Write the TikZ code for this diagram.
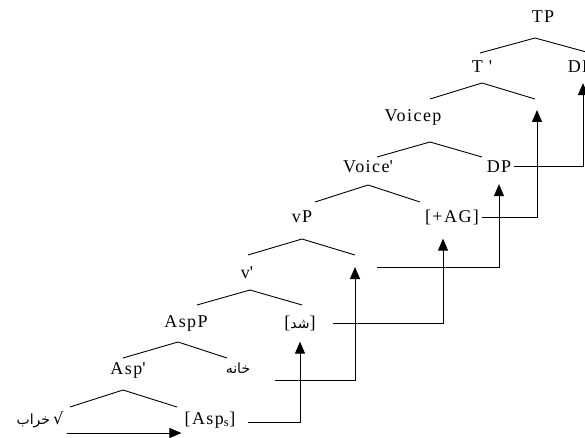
\documentclass[tikz,border=0pt]{standalone}
\usepackage{fontspec}
\setmainfont{Liberation Serif}[LetterSpace=8]
\newfontfamily\arabicfont[Script=Arabic]{DejaVu Sans}
\TeXXeTstate=1
\usetikzlibrary{arrows.meta}
\newcommand{\ar}[1]{{\arabicfont\fontsize{14}{16}\selectfont\beginR #1\endR}}

\tikzset{
  lbl/.style={font=\fontsize{18}{21}\selectfont, inner sep=3pt},
  branch/.style={line width=0.9pt},
  mv/.style={line width=1pt, -{Triangle[length=12pt,width=10pt]}, shorten >=8pt}
}

\begin{document}
\begin{tikzpicture}[x=1pt,y=1pt,node distance=50pt]
  \useasboundingbox (0,0) rectangle (585,-438);

  % labels, top down
  \node[lbl] (tp) at (543,-17) {TP};
  \node[lbl,below of=tp,xshift=-61pt] (tbar) {T \textquotesingle};
  \node[lbl,below of=tp,xshift=37pt] (dp2) {DP};
  \coordinate[below of=tbar,xshift=55pt,yshift=7pt] (slott);
  \node[lbl,below of=tbar,xshift=-69pt] (voicep) {Voicep};
  \node[lbl,below of=voicep,xshift=-45pt] (voicebar) {Voice\textquotesingle};
  \node[lbl,below of=voicep,xshift=86pt] (dp1) {DP};
  \node[lbl,below of=voicebar,xshift=-66pt] (vp) {vP};
  \node[lbl,below of=voicebar,xshift=84pt] (ag) {[+AG]};
  \node[lbl,below of=vp,xshift=-55pt,yshift=-6pt] (vbar) {v\textquotesingle};
  \coordinate[below of=vp,xshift=53pt] (slotv);
  \node[lbl,below of=vbar,xshift=-61pt] (aspp) {AspP};
  \node[lbl,below of=vbar,xshift=53pt] (shod) {[\ar{شد}]};
  \node[lbl,below of=aspp,xshift=-58pt,yshift=3pt] (aspbar) {Asp\textquotesingle};
  \node[lbl,below of=aspp,xshift=52pt,yshift=5pt] (khane) {\ar{خانه}};
  \node[lbl,below of=aspbar,xshift=-88pt] (root) {\ar{خراب}\,{\arabicfont\fontsize{16}{18}\selectfont √}};
  \node[lbl,below of=aspbar,xshift=82pt] (asps) {[Asp\textsubscript{s}]};

  % branches
  \draw[branch] (tp) ++(-63,-36) -- ++(55,15) -- ++(55,-15);
  \draw[branch] (tbar) ++(-52,-32) -- ++(52,16) -- ++(53,-16);
  \draw[branch] (voicep) ++(-36,-40) -- ++(53,15) -- ++(52,-15);
  \draw[branch] (voicebar) ++(-53,-35) -- ++(53,17) -- ++(52,-17);
  \draw[branch] (vp) ++(-54,-38) -- ++(54,16) -- ++(53,-16);
  \draw[branch] (vbar) ++(-50,-32) -- ++(53,15) -- ++(52,-15);
  \draw[branch] (aspp) ++(-63,-35) -- ++(55,16) -- ++(49,-16);
  \draw[branch] (aspbar) ++(-58,-37) -- ++(53,17) -- ++(54,-17);

  % movement
  \draw[mv,shorten >=0pt] ([yshift=-13pt]root.east) -- ([yshift=-13pt]root.east -| asps.west);
  \draw[mv] ([xshift=9pt,yshift=-2pt]asps.east) -| (shod.south);
  \draw[mv,shorten >=0pt] ([xshift=22pt,yshift=-12pt]khane.east) -| (slotv);
  \draw[mv,shorten >=11pt] ([xshift=14pt]shod.east) -| ([xshift=-9pt]ag.south);
  \draw[mv] ([xshift=22pt]slotv) -| (dp1.south);
  \draw[mv,shorten >=0pt] (ag.east) -| (slott);
  \draw[mv,shorten >=7pt] (dp1.east) -| ([xshift=3pt]dp2.south);
\end{tikzpicture}
\end{document}
